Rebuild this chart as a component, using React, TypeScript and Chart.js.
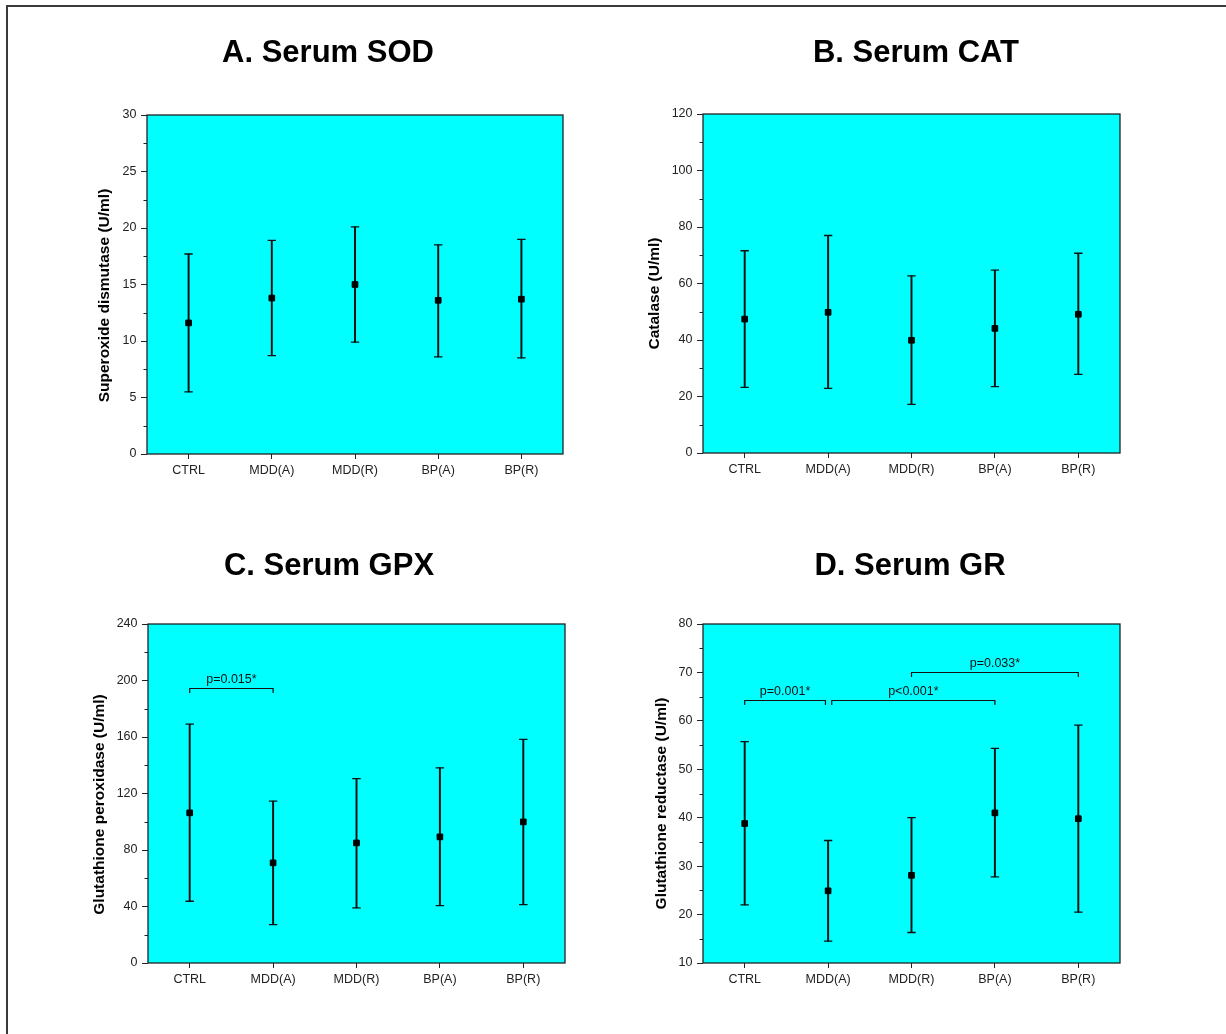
import React, { useEffect, useRef } from 'react';
import { Chart, registerables } from 'chart.js';

Chart.register(...registerables);

const FONT = "'Liberation Sans', Arial, Helvetica, sans-serif";
Chart.defaults.font.family = FONT;

// ---------- data ----------
const groups = ['CTRL', 'MDD(A)', 'MDD(R)', 'BP(A)', 'BP(R)'];

const sodMean = [11.6, 13.8, 15.0, 13.6, 13.7];
const sodUpper = [17.7, 18.9, 20.1, 18.5, 19.0];
const sodLower = [5.5, 8.7, 9.9, 8.6, 8.5];
const sodAxis = [0, 30, 5]; // min, max, major step

const catMean = [47.4, 49.8, 39.9, 44.1, 49.1];
const catUpper = [71.6, 77.0, 62.7, 64.7, 70.7];
const catLower = [23.2, 22.9, 17.2, 23.5, 27.8];
const catAxis = [0, 120, 20];

const gpxMean = [106.3, 70.9, 85.0, 89.3, 99.9];
const gpxUpper = [169.1, 114.6, 130.6, 138.2, 158.3];
const gpxLower = [43.7, 27.2, 39.0, 40.6, 41.3];
const gpxAxis = [0, 240, 40];

const grMean = [38.8, 24.9, 28.1, 41.0, 39.8];
const grUpper = [55.7, 35.3, 40.0, 54.3, 59.1];
const grLower = [22.0, 14.5, 16.3, 27.8, 20.5];
const grAxis = [10, 80, 10];

const gpxBrackets = [{ from: 0, to: 1, y: 195, text: 'p=0.015*' }];
const grBrackets = [
  { from: 0, to: 0.968, y: 64.3, text: 'p=0.001*' },
  { from: 1.044, to: 3, y: 64.3, text: 'p<0.001*' },
  { from: 2, to: 4, y: 70.1, text: 'p=0.033*' },
];

// ---------- panels ----------
const panels = [
  {
    title: 'A. Serum SOD', yTitle: 'Superoxide dismutase (U/ml)',
    mean: sodMean, upper: sodUpper, lower: sodLower, axis: sodAxis, brackets: [],
    box: { left: 147, top: 115, right: 563, bottom: 454, titleX: 328, titleY: 53.5, yTitleX: 105, yTitleShift: 11 },
  },
  {
    title: 'B. Serum CAT', yTitle: 'Catalase (U/ml)',
    mean: catMean, upper: catUpper, lower: catLower, axis: catAxis, brackets: [],
    box: { left: 703, top: 114, right: 1120, bottom: 453, titleX: 916, titleY: 53.5, yTitleX: 655, yTitleShift: 10 },
  },
  {
    title: 'C. Serum GPX', yTitle: 'Glutathione peroxidase (U/ml)',
    mean: gpxMean, upper: gpxUpper, lower: gpxLower, axis: gpxAxis, brackets: gpxBrackets,
    box: { left: 148, top: 624, right: 565, bottom: 963, titleX: 329, titleY: 566.5, yTitleX: 100, yTitleShift: 11 },
  },
  {
    title: 'D. Serum GR', yTitle: 'Glutathione reductase (U/ml)',
    mean: grMean, upper: grUpper, lower: grLower, axis: grAxis, brackets: grBrackets,
    box: { left: 703, top: 624, right: 1120, bottom: 963, titleX: 910, titleY: 566.5, yTitleX: 662, yTitleShift: 10 },
  },
];

const TITLE_SIZE = 31;
const YTITLE_SIZE = 15.5;
const TICK_SIZE = 12.5;

function geometry(b: any) {
  const cx = b.yTitleX - 25;
  const cy = b.top - 100;
  const xH = 40;
  const H = b.bottom - cy + xH;
  const tcl = b.titleX - cx;
  const W = 2 * tcl;
  const y2W = W - (b.right - cx);
  const yW = b.left - cx;
  const tLH = TITLE_SIZE * 1.2;
  const tPadTop = b.titleY - cy - tLH / 2;
  const tPadBottom = b.top - cy - tPadTop - tLH;
  const yTitleOffset = b.yTitleX - cx;
  return { cx, cy, W, H, xH, y2W, yW, tPadTop, tPadBottom, yTitleOffset, yTitleShift: b.yTitleShift };
}

function Panel({ p }: { p: any }) {
  const ref = useRef<HTMLCanvasElement | null>(null);
  const g = geometry(p.box);

  useEffect(() => {
    const [yMin, yMax, yStep] = p.axis;
    const decor = {
      id: 'decor',
      beforeDraw(chart: any) {
        const { ctx, chartArea: a } = chart;
        ctx.save();
        ctx.fillStyle = '#00FFFF';
        ctx.fillRect(a.left, a.top, a.right - a.left, a.bottom - a.top);
        ctx.restore();
      },
      beforeDatasetsDraw(chart: any) {
        const { ctx, chartArea: a } = chart;
        const ys = chart.scales.y;
        ctx.save();
        ctx.strokeStyle = '#222';
        ctx.lineWidth = 1.3;
        ctx.strokeRect(a.left, a.top, a.right - a.left, a.bottom - a.top);
        ctx.lineWidth = 1;
        ctx.beginPath();
        for (let v = yMin + yStep / 2; v < yMax; v += yStep) {
          const py = Math.round(ys.getPixelForValue(v)) + 0.5;
          ctx.moveTo(a.left - 3.5, py);
          ctx.lineTo(a.left, py);
        }
        ctx.stroke();
        // y axis title
        ctx.fillStyle = '#000';
        ctx.font = `bold ${YTITLE_SIZE}px ${FONT}`;
        ctx.textAlign = 'center';
        ctx.textBaseline = 'middle';
        ctx.translate(ys.left + g.yTitleOffset, (ys.top + ys.bottom) / 2 + g.yTitleShift);
        ctx.rotate(-Math.PI / 2);
        ctx.fillText(p.yTitle, 0, 0);
        ctx.restore();
      },
      afterDatasetsDraw(chart: any) {
        const { ctx } = chart;
        const xs = chart.scales.x;
        const ys = chart.scales.y;
        ctx.save();
        ctx.strokeStyle = '#111';
        ctx.fillStyle = '#111';
        ctx.lineWidth = 1.2;
        ctx.font = `${TICK_SIZE}px ${FONT}`;
        ctx.textAlign = 'center';
        ctx.textBaseline = 'middle';
        for (const br of p.brackets) {
          const x1 = xs.getPixelForValue(br.from);
          const x2 = xs.getPixelForValue(br.to);
          const y = Math.round(ys.getPixelForValue(br.y)) + 0.5;
          ctx.beginPath();
          ctx.moveTo(x1, y + 4.5);
          ctx.lineTo(x1, y);
          ctx.lineTo(x2, y);
          ctx.lineTo(x2, y + 4.5);
          ctx.stroke();
          ctx.fillText(br.text, (x1 + x2) / 2, y - 8.5);
        }
        ctx.restore();
      },
    };

    const chart = new Chart(ref.current as HTMLCanvasElement, {
      type: 'bar',
      data: {
        labels: groups,
        datasets: [
          {
            type: 'bar',
            data: p.upper.map((u: number, i: number) => [p.lower[i], u]),
            backgroundColor: '#111',
            borderWidth: 0,
            barThickness: 1.3,
            xAxisID: 'x',
            yAxisID: 'y',
            order: 3,
          } as any,
          {
            type: 'line',
            data: p.upper,
            showLine: false,
            pointStyle: 'line',
            pointRadius: 4.2,
            pointBorderWidth: 1.3,
            pointBorderColor: '#111',
            borderColor: '#111',
            xAxisID: 'x',
            yAxisID: 'y',
            order: 2,
          },
          {
            type: 'line',
            data: p.lower,
            showLine: false,
            pointStyle: 'line',
            pointRadius: 4.2,
            pointBorderWidth: 1.3,
            pointBorderColor: '#111',
            borderColor: '#111',
            xAxisID: 'x',
            yAxisID: 'y',
            order: 2,
          },
          {
            type: 'line',
            data: p.mean,
            showLine: false,
            pointStyle: 'rect',
            pointRadius: 4,
            pointBorderWidth: 1,
            pointBackgroundColor: '#000',
            pointBorderColor: '#000',
            borderColor: '#000',
            xAxisID: 'x',
            yAxisID: 'y',
            order: 1,
          },
        ],
      },
      options: {
        responsive: false,
        animation: false,
        events: [],
        layout: { padding: 0, autoPadding: false },
        plugins: {
          legend: { display: false },
          tooltip: { enabled: false },
          title: {
            display: true,
            text: p.title,
            color: '#000',
            fullSize: true,
            font: { size: TITLE_SIZE, weight: 'bold', family: FONT },
            padding: { top: g.tPadTop, bottom: g.tPadBottom },
          },
        },
        scales: {
          x: {
            type: 'category',
            offset: true,
            grid: {
              display: true,
              offset: false,
              drawOnChartArea: false,
              drawTicks: true,
              tickLength: 5,
              tickColor: '#222',
              tickWidth: 1,
            },
            border: { display: false },
            ticks: {
              color: '#222',
              font: { size: TICK_SIZE, family: FONT },
              padding: 4,
              maxRotation: 0,
              autoSkip: false,
            },
            afterFit: (s: any) => { s.height = g.xH; },
          },
          y: {
            type: 'linear',
            min: yMin,
            max: yMax,
            ticks: {
              stepSize: yStep,
              color: '#222',
              font: { size: TICK_SIZE, family: FONT },
              padding: 4.5,
            },
            grid: {
              display: true,
              drawOnChartArea: false,
              drawTicks: true,
              tickLength: 6,
              tickColor: '#222',
              tickWidth: 1,
            },
            border: { display: false },
            title: { display: false, text: p.yTitle },
            afterFit: (s: any) => { s.width = g.yW; },
          },
          y2: {
            type: 'linear',
            position: 'right',
            display: true,
            grid: { display: false },
            ticks: { display: false },
            border: { display: false },
            afterFit: (s: any) => { s.width = g.y2W; },
          },
        },
      } as any,
      plugins: [decor],
    });
    return () => chart.destroy();
  }, []);

  return (
    <div style={{ position: 'absolute', left: g.cx, top: g.cy, width: g.W, height: g.H }}>
      <canvas ref={ref} width={g.W} height={g.H} style={{ display: 'block', width: g.W, height: g.H }} />
    </div>
  );
}

export default function App() {
  return (
    <div
      style={{
        position: 'absolute',
        left: 0,
        top: 0,
        width: 1226,
        height: 1034,
        overflow: 'hidden',
        background: '#fff',
      }}
    >
      <div
        style={{
          position: 'absolute',
          left: 6,
          top: 5,
          width: 1400,
          height: 1200,
          borderTop: '2px solid #3a3a3a',
          borderLeft: '2px solid #3a3a3a',
        }}
      />
      {panels.map((p) => (
        <Panel key={p.title} p={p} />
      ))}
    </div>
  );
}
